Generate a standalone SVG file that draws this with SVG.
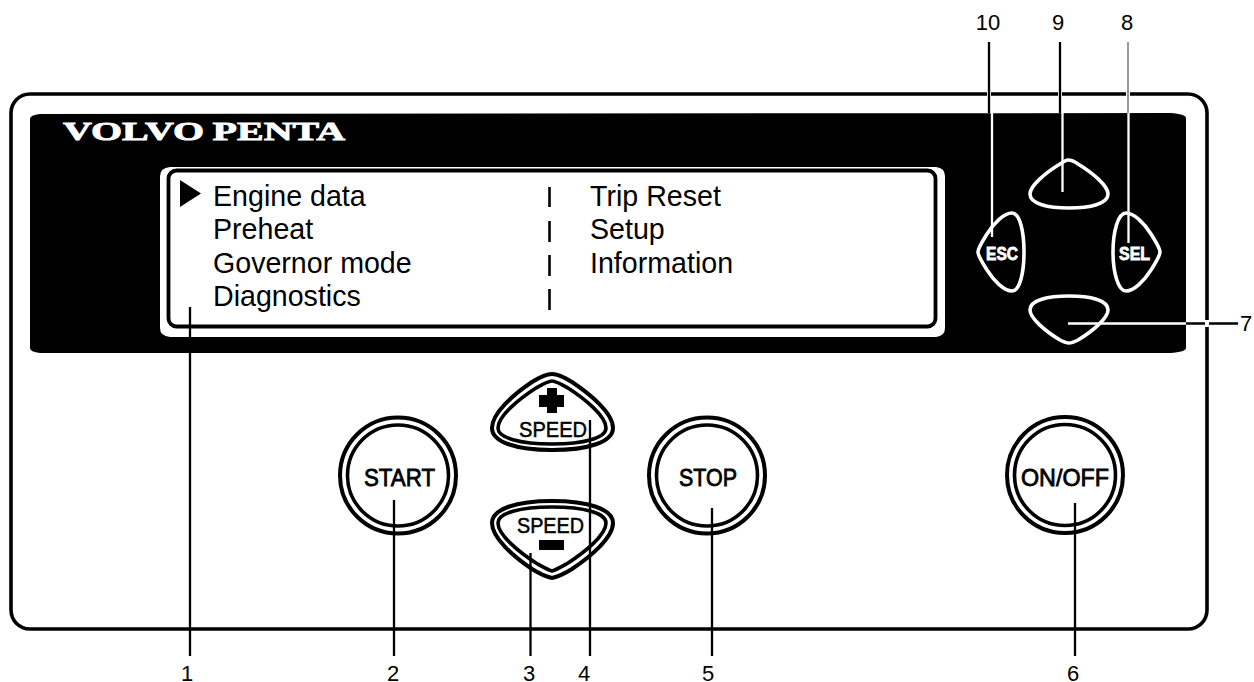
<svg xmlns="http://www.w3.org/2000/svg" width="1254" height="682" viewBox="0 0 1254 682">
<style>
text{font-family:"Liberation Sans",Arial,sans-serif;fill:#000}
.n{font-size:22px;text-anchor:middle}
.m{font-size:28.600px}
.b{font-size:24.500px;stroke:#000;stroke-width:.8}
.s{font-size:22px;stroke:#000;stroke-width:.5}
.k{fill:#fff;stroke:#fff;stroke-width:.8;font-size:18px;font-weight:700}
.o{fill:none;stroke:#000;stroke-width:4}
.i{fill:none;stroke:#000;stroke-width:3.600}
.w{fill:none;stroke:#fff;stroke-width:3.600;stroke-linejoin:round}
.l{fill:none;stroke:#000;stroke-width:2.300}
.lw{fill:none;stroke:#fff;stroke-width:2.300}
</style>
<rect width="1254" height="682" fill="#fff"/>
<g id="housing"><rect x="11" y="94" width="1196" height="535" rx="19" fill="#fff" stroke="#000" stroke-width="3.600"/></g>
<g id="panel"><path d="M30 119Q30 115 40 114L1170 113Q1186 114 1186 118V348Q1186 352 1170 353H40Q30 352 30 348Z" fill="#000"/></g>
<g id="logo"><text x="63" y="140" style="font-family:'Liberation Serif',serif;font-weight:700;font-size:25.500px;word-spacing:-1px;fill:#fff;stroke:#fff;stroke-width:.8" textLength="282" lengthAdjust="spacingAndGlyphs">VOLVO PENTA</text></g>
<g id="display">
<path d="M160 176Q160 168 170 167H936Q945 168 945 176V328Q945 336 936 337H170Q160 336 160 328Z" fill="#fff"/>
<rect x="168.500" y="170.500" width="767" height="156" rx="8" fill="#fff" stroke="#000" stroke-width="3.800"/>
<path d="M180 180L201 193.500L180 207Z" fill="#000"/>
<text class="m" x="213" y="205.500">Engine data</text>
<text class="m" x="213" y="239">Preheat</text>
<text class="m" x="213" y="272.500">Governor mode</text>
<text class="m" x="213" y="306">Diagnostics</text>
<text class="m" x="590" y="205.500">Trip Reset</text>
<text class="m" x="590" y="239">Setup</text>
<text class="m" x="590" y="272.500">Information</text>
<path d="M549.500 187V207M549.500 221V242M549.500 255V276M549.500 289V310" stroke="#000" stroke-width="2.600"/>
</g>
<g id="key-up"><path class="w" d="M1068 160C1071 160 1074 161 1078 164C1093 173 1108 186 1108 194C1108 204 1090 208 1069 208C1048 208 1030 204 1030 194C1030 186 1045 173 1060 164C1063 162 1066 160 1068 160Z"/></g>
<g id="key-down"><path class="w" d="M1069 296C1090 296 1108 300 1108 310C1108 318 1093 331 1078 340C1074 342 1071 343 1069 343C1067 343 1064 342 1060 340C1045 331 1030 318 1030 310C1030 300 1048 296 1069 296Z"/></g>
<g id="key-esc"><path class="w" d="M1012 213C1020 213 1024 232 1024 252C1024 272 1020 291 1012 291C1004 291 994 281 987 270C982 262 978 256 978 252C978 248 982 242 987 234C994 223 1004 213 1012 213Z"/><text class="k" x="986" y="260" textLength="32" lengthAdjust="spacingAndGlyphs">ESC</text></g>
<g id="key-sel"><path class="w" d="M1126 213C1118 213 1113 232 1113 252C1113 272 1118 291 1126 291C1134 291 1144 281 1151 270C1156 262 1160 256 1160 252C1160 248 1156 242 1151 234C1144 223 1134 213 1126 213Z"/><text class="k" x="1119" y="260" textLength="31" lengthAdjust="spacingAndGlyphs">SEL</text></g>
<g id="key-start"><circle class="o" cx="398" cy="475.500" r="58"/><circle class="i" cx="398" cy="475.500" r="50.500"/><text class="b" x="364" y="486" textLength="71" lengthAdjust="spacingAndGlyphs">START</text></g>
<g id="key-stop"><circle class="o" cx="707" cy="475.500" r="58"/><circle class="i" cx="707" cy="475.500" r="50.500"/><text class="b" x="679" y="486" textLength="58" lengthAdjust="spacingAndGlyphs">STOP</text></g>
<g id="key-onoff"><circle class="o" cx="1065" cy="475" r="58"/><circle class="i" cx="1065" cy="475" r="50.500"/><text class="b" x="1021" y="486" textLength="88" lengthAdjust="spacingAndGlyphs">ON/OFF</text></g>
<g id="key-speed-plus">
<path class="o" d="M552 374C557 374 564 377 572 382C590 394 613 413 613 428C613 442 588 450 552 450C516 450 492 442 492 428C492 413 514 394 532 382C540 377 547 374 552 374Z"/>
<path class="i" d="M552 381C556 381 561 384 568 388C585 399 606 416 606 428C606 438 584 444 552 444C520 444 498 438 498 428C498 416 519 399 536 388C543 384 548 381 552 381Z"/>
<path d="M547 388H557V395H564V407H557V413H547V407H539V395H547Z" fill="#000"/>
<text class="s" x="519" y="437" textLength="68" lengthAdjust="spacingAndGlyphs">SPEED</text></g>
<g id="key-speed-minus">
<path class="o" d="M552 501C588 501 613 509 613 523C613 538 590 557 572 569C564 574 557 577 552 578C547 577 540 574 532 569C514 557 492 538 492 523C492 509 516 501 552 501Z"/>
<path class="i" d="M552 507C584 507 606 513 606 523C606 535 585 552 568 563C561 567 556 570 552 571C548 570 543 567 536 563C519 552 498 535 498 523C498 513 520 507 552 507Z"/>
<rect x="539" y="540" width="25" height="10" fill="#000"/>
<text class="s" x="517" y="533" textLength="67" lengthAdjust="spacingAndGlyphs">SPEED</text></g>
<g id="connectors">
<path class="l" d="M190 307V656M394 500V656M530.500 553V656M590 420V656M712 508V656M1075 503V656M1186 323.500H1238"/>
<path d="M989 91V97M1060 91V97M1128 91V97M1207 320V327" stroke="#fff" stroke-width="4" fill="none"/>
<path class="l" d="M989 42V113M1060 42V113"/>
<path d="M1128 42V113" stroke="#555" stroke-width="1.200" fill="none"/>
<path class="lw" d="M992 113V237M1062.500 113V192M1128.500 113V243M1068 323.500H1186"/>
</g>
<g id="callouts">
<text class="n" x="988" y="30">10</text><text class="n" x="1058" y="30">9</text><text class="n" x="1127" y="30">8</text>
<text class="n" x="1246" y="331">7</text>
<text class="n" x="187" y="681">1</text><text class="n" x="393" y="681">2</text><text class="n" x="529" y="681">3</text><text class="n" x="584" y="681">4</text><text class="n" x="708" y="681">5</text><text class="n" x="1073" y="681">6</text>
</g>
</svg>
